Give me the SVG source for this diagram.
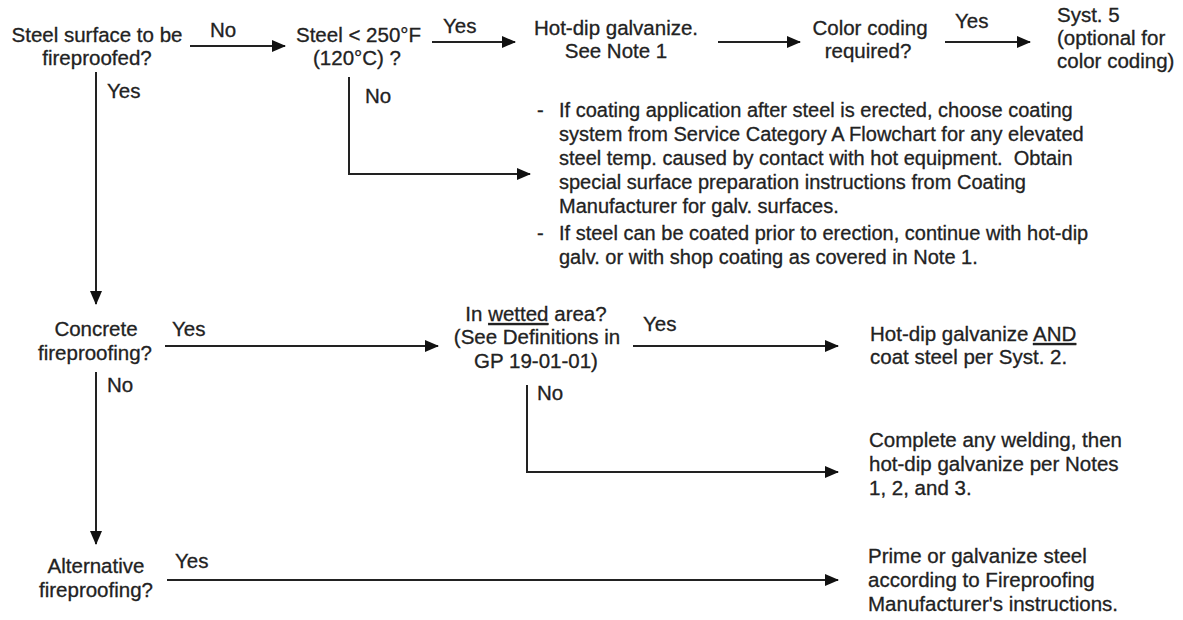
<svg xmlns="http://www.w3.org/2000/svg" width="1183" height="620" viewBox="0 0 1183 620">
<style>
text{font-family:"Liberation Sans",Arial,sans-serif;font-size:20.5px;fill:#222;stroke:#222;stroke-width:0.3}
.m{text-anchor:middle}
.nt{font-size:20px;white-space:pre}
.c{fill:none;stroke:#222;stroke-width:2}
</style>
<defs>
<marker id="ah" markerUnits="userSpaceOnUse" markerWidth="14" markerHeight="12" refX="13" refY="6" orient="auto">
<path d="M0,0 L14,6 L0,12 Z" fill="#111"/>
</marker>
</defs>
<rect width="1183" height="620" fill="#fff"/>
<g id="connectors">
<path class="c" d="M190,46 H285" marker-end="url(#ah)"/>
<path class="c" d="M432,42 H515" marker-end="url(#ah)"/>
<path class="c" d="M718,42 H800" marker-end="url(#ah)"/>
<path class="c" d="M945,42 H1030" marker-end="url(#ah)"/>
<path class="c" d="M96,72 V304" marker-end="url(#ah)"/>
<path class="c" d="M349,77 V174 H530" marker-end="url(#ah)"/>
<path class="c" d="M165,346 H438" marker-end="url(#ah)"/>
<path class="c" d="M633,346 H838" marker-end="url(#ah)"/>
<path class="c" d="M527,385 V472 H838" marker-end="url(#ah)"/>
<path class="c" d="M96,372 V544" marker-end="url(#ah)"/>
<path class="c" d="M167,580 H838" marker-end="url(#ah)"/>
<text x="210" y="37">No</text>
<text x="443" y="33">Yes</text>
<text x="955" y="28">Yes</text>
<text x="107" y="98">Yes</text>
<text x="365" y="103">No</text>
<text x="172" y="336">Yes</text>
<text x="643" y="331">Yes</text>
<text x="537" y="400">No</text>
<text x="107" y="392">No</text>
<text x="175" y="568">Yes</text>
</g>
<g id="n1"><text class="m" x="97" y="42">Steel surface to be</text><text class="m" x="97" y="65">fireproofed?</text></g>
<g id="n2"><text x="296" y="42">Steel &lt; 250°F</text><text x="313" y="65">(120°C) ?</text></g>
<g id="n3"><text class="m" x="616" y="35">Hot-dip galvanize.</text><text class="m" x="616" y="58">See Note 1</text></g>
<g id="n4"><text class="m" x="870" y="35">Color coding</text><text class="m" x="868" y="58">required?</text></g>
<g id="n5"><text x="1057" y="22">Syst. 5</text><text x="1057" y="45">(optional for</text><text x="1057" y="68">color coding)</text></g>
<g id="n6">
<text class="nt" x="537" y="117">-</text><text class="nt" x="559" y="117">If coating application after steel is erected, choose coating</text>
<text class="nt" x="559" y="141">system from Service Category A Flowchart for any elevated</text>
<text class="nt" x="559" y="165">steel temp. caused by contact with hot equipment.  Obtain</text>
<text class="nt" x="559" y="189">special surface preparation instructions from Coating</text>
<text class="nt" x="559" y="213">Manufacturer for galv. surfaces.</text>
<text class="nt" x="537" y="240">-</text><text class="nt" x="559" y="240">If steel can be coated prior to erection, continue with hot-dip</text>
<text class="nt" x="559" y="264">galv. or with shop coating as covered in Note 1.</text>
</g>
<g id="n7"><text class="m" x="96" y="336">Concrete</text><text class="m" x="95" y="360">fireproofing?</text></g>
<g id="n8"><text class="m" x="536" y="321">In <tspan text-decoration="underline">wetted</tspan> area?</text><text class="m" x="537" y="344">(See Definitions in</text><text class="m" x="536" y="368">GP 19-01-01)</text></g>
<g id="n9"><text x="870" y="341">Hot-dip galvanize <tspan text-decoration="underline">AND</tspan></text><text x="870" y="364">coat steel per Syst. 2.</text></g>
<g id="n10"><text x="869" y="447">Complete any welding, then</text><text x="869" y="471">hot-dip galvanize per Notes</text><text x="869" y="495">1, 2, and 3.</text></g>
<g id="n11"><text class="m" x="96" y="573">Alternative</text><text class="m" x="96" y="597">fireproofing?</text></g>
<g id="n12"><text x="868" y="563">Prime or galvanize steel</text><text x="868" y="587">according to Fireproofing</text><text x="868" y="611">Manufacturer's instructions.</text></g>
</svg>
